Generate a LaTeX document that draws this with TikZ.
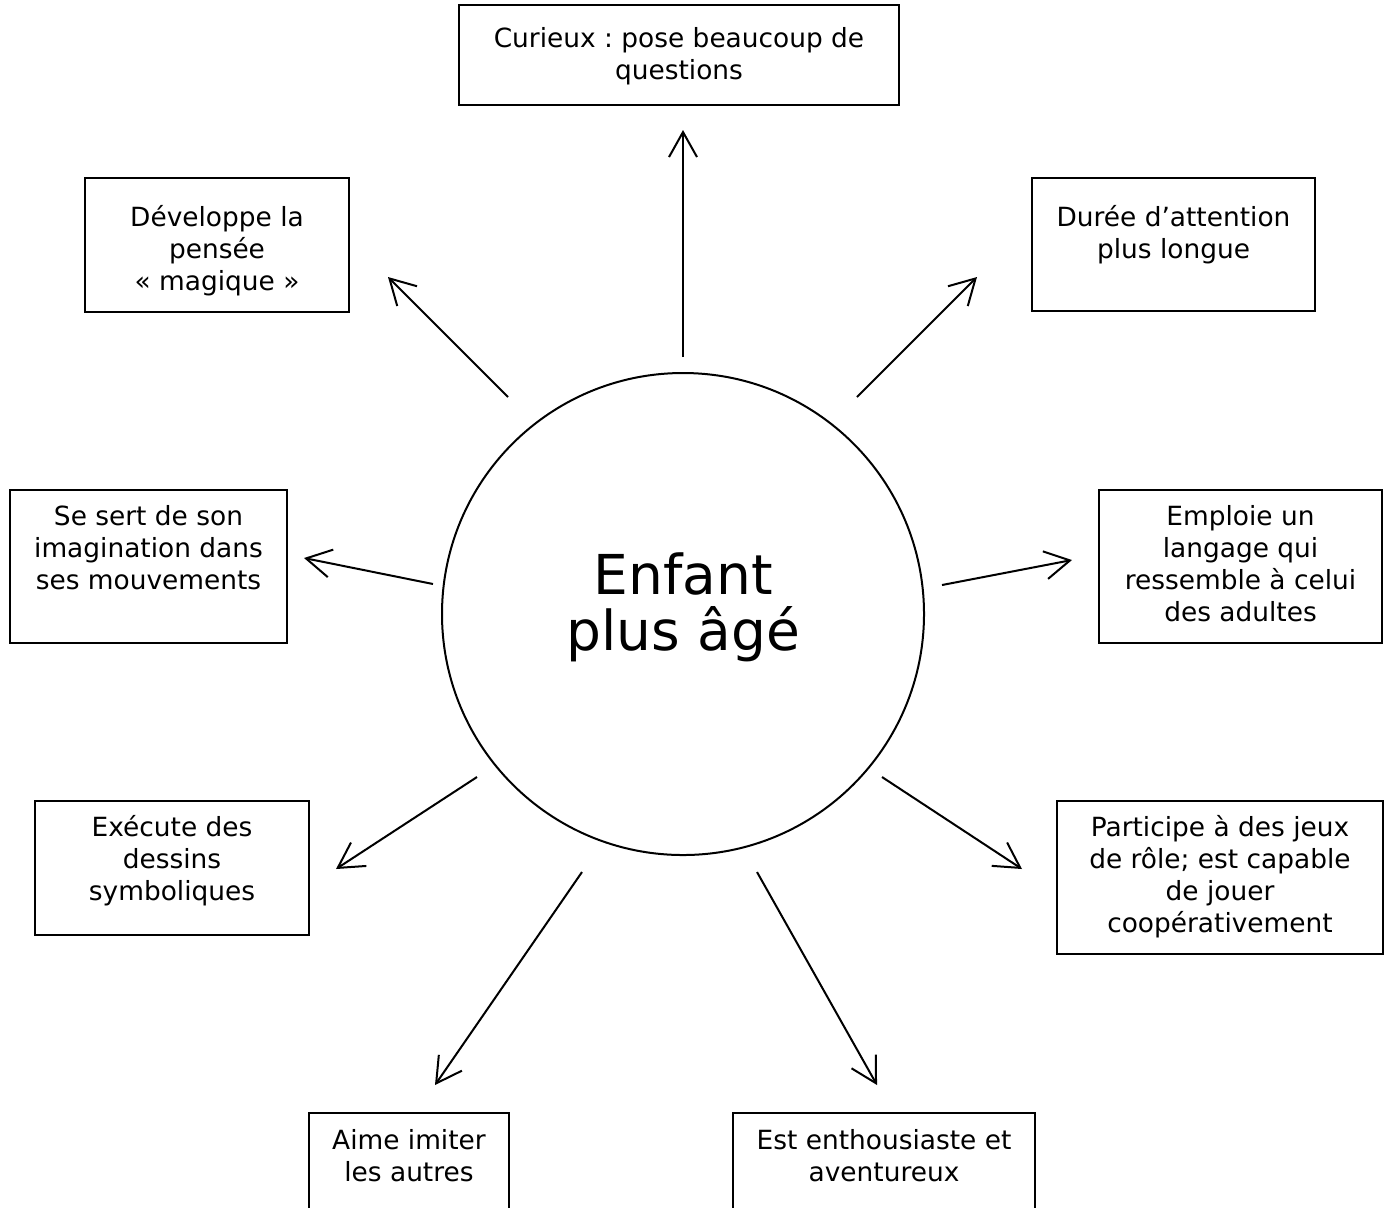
\documentclass[tikz,border=0pt]{standalone}
\usepackage{fontspec}
\setmainfont{DejaVu Sans}
\usetikzlibrary{arrows.meta}
\frenchspacing

% box of fixed size, text from the top
\newcommand{\boite}[4]{\parbox[c][#3][t]{#2}{\centering\vspace*{\dimexpr#1-11.2pt\relax}\strut#4}}

\tikzset{
  cadre/.style={draw, line width=1pt, inner sep=0pt, anchor=north west, font=\fontsize{13.2}{16}\selectfont},
  fleche/.style={-{Straight Barb[length=12.5pt,width=14pt]}, line width=1pt},
}

\begin{document}
\begin{tikzpicture}[x=0.5pt,y=-0.5pt]
\clip (0,0) rectangle (1390,1207);

\node[draw, circle, line width=1pt, minimum size=241pt, inner sep=0pt, align=center,
      font=\fontsize{27.5}{28}\selectfont] (enfant) at (683,614) {Enfant\\plus âgé\\[-16pt]};

\node[cadre] (curieux) at (458,4) {\boite{21pt}{220pt}{50pt}{Curieux : pose beaucoup de\\questions}};
\node[cadre] (magique) at (84,177) {\boite{24pt}{132pt}{67pt}{Développe la\\pensée\\«~magique~»}};
\node[cadre] (attention) at (1031,177) {\boite{24pt}{141.5pt}{66.5pt}{Durée d’attention\\plus longue}};
\node[cadre] (imagination) at (9,489) {\boite{17.5pt}{138.5pt}{76.5pt}{Se sert de son\\imagination dans\\ses mouvements}};
\node[cadre] (langage) at (1098,489) {\boite{17.5pt}{141.5pt}{76.5pt}{Emploie un\\langage qui\\ressemble à celui\\des adultes}};
\node[cadre] (dessins) at (34,800) {\boite{17.5pt}{137pt}{67pt}{Exécute des\\dessins\\symboliques}};
\node[cadre] (role) at (1056,800) {\boite{17.5pt}{163pt}{76.5pt}{Participe à des jeux\\de rôle; est capable\\de jouer\\coopérativement}};
\node[cadre] (imiter) at (308,1112) {\boite{18pt}{100pt}{70pt}{Aime imiter\\les autres}};
\node[cadre] (aventure) at (732,1112) {\boite{18pt}{151pt}{70pt}{Est enthousiaste et\\aventureux}};

% free ends of the arrows
\path (683,357) coordinate (s-curieux)     (683,130) coordinate (e-curieux)
      (508,397) coordinate (s-magique)     (388,277) coordinate (e-magique)
      (857,397) coordinate (s-attention)   (977,277) coordinate (e-attention)
      (433,584) coordinate (s-imagination) (304,558) coordinate (e-imagination)
      (942,585) coordinate (s-langage)     (1072,560) coordinate (e-langage)
      (477,777) coordinate (s-dessins)     (336,869) coordinate (e-dessins)
      (882,777) coordinate (s-role)        (1022,869) coordinate (e-role)
      (582,872) coordinate (s-imiter)      (435,1085) coordinate (e-imiter)
      (757,872) coordinate (s-aventure)    (877,1085) coordinate (e-aventure);

\foreach \n in {curieux,magique,attention,imagination,langage,dessins,role,imiter,aventure}
  \draw[fleche] (s-\n) -- (e-\n);

\end{tikzpicture}
\end{document}
